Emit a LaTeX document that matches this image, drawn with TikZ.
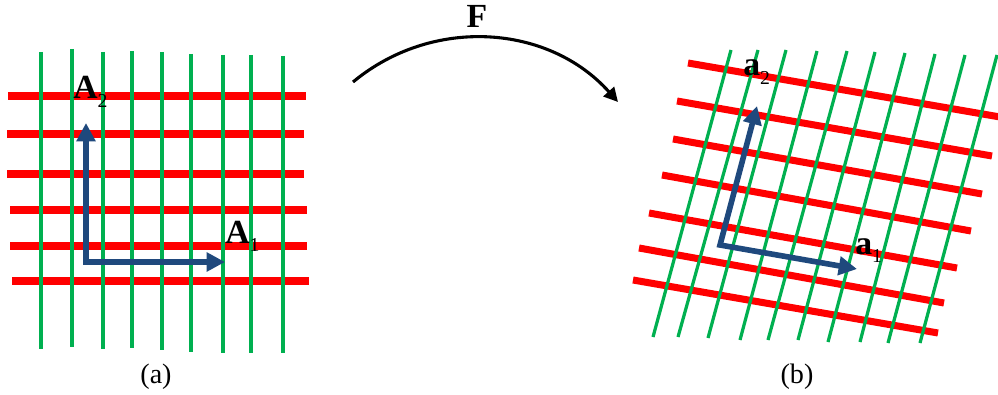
\documentclass[tikz,border=0pt]{standalone}
\usepackage{fontspec}
\setmainfont{Liberation Serif}
\usepackage{tikz}
\usetikzlibrary{arrows.meta}

\definecolor{gridred}{RGB}{255,0,0}
\definecolor{gridgreen}{RGB}{0,176,80}
\definecolor{vecblue}{RGB}{31,73,125}

\newcommand{\vecsub}[2]{\textbf{#1}\raisebox{-6pt}{\fontsize{14}{14}\selectfont #2}}

\begin{document}
\begin{tikzpicture}[x=0.025cm, y=-0.025cm,
    redline/.style={gridred, line width=5pt},
    greenline/.style={gridgreen, line width=2.3pt},
    basevec/.style={vecblue, line width=4pt, {Triangle[length=13pt,width=13pt]}-{Triangle[length=13pt,width=13pt]}},
    maparrow/.style={black, line width=2.2pt, -{Triangle[length=10pt,width=10pt]}},
    lbl/.style={inner sep=0pt, anchor=base west, font=\fontsize{24}{28}\selectfont},
    caption/.style={inner sep=0pt, anchor=base, font=\fontsize{20}{24}\selectfont}]
    \useasboundingbox (0,0) rectangle (998,394);
    % Reference grid (a)
    \begin{scope}
        \foreach \y/\xa/\xb in {96/8/306, 134/7/304, 174/7/304, 210/10/307, 246/10/307, 281/12/309}
            \draw[redline] (\xa,\y) -- (\xb,\y);
        \foreach \x/\ya/\yb in {41/52/349, 72/49/347, 103/52/349, 132/51/348, 162/52/350,
                                191/54/352, 223/55/353, 251/55/353, 283/56/353}
            \draw[greenline] (\x,\ya) -- (\x,\yb);
        \coordinate (O1) at (86,262);
        \coordinate (E1) at (225,262);
        \coordinate (E2) at (86,123);
        \draw[basevec] (E2) -- (O1) -- (E1);
        \node[lbl] (A2) at (73,99) {\vecsub{A}{2}};
        \node[lbl] (A1) at (225,243) {\vecsub{A}{1}};
        \node[caption] (capa) at (156,383) {(a)};
    \end{scope}
    % Mapping
    \coordinate (Fs) at (353,82);
    \coordinate (Fe) at (618,102);
    \draw[maparrow] (Fs) to[bend left=44] (Fe);
    \node[caption, font=\fontsize{24}{28}\selectfont\bfseries] (F) at (477,28) {F};
    % Deformed grid (b)
    \begin{scope}
        \foreach \xa/\ya/\xb/\yb in {688/63/1000/117, 677/101/992/156, 673/139/982/194, 662/175/971/231,
                                     649/213/957/268, 639/248/944/303, 633/280/938/333}
            \draw[redline] (\xa,\ya) -- (\xb,\yb);
        \foreach \xa/\ya/\xb/\yb in {731/50/653/337, 758/50/678/337, 786/50/708/338, 817/51/740/340,
                                     847/51/768/340, 875/52/798/340, 905/53/828/342, 935/54/860/342,
                                     965/55/888/343, 997/55/920/343}
            \draw[greenline] (\xa,\ya) -- (\xb,\yb);
        \coordinate (O2) at (720,245);
        \coordinate (e1) at (857,269);
        \coordinate (e2) at (757,106);
        \draw[basevec] (e2) -- (O2) -- (e1);
        \node[lbl] (a2) at (743,76) {\vecsub{a}{2}};
        \node[lbl] (a1) at (855,254) {\vecsub{a}{1}};
        \node[caption] (capb) at (797,383) {(b)};
    \end{scope}
\end{tikzpicture}
\end{document}
